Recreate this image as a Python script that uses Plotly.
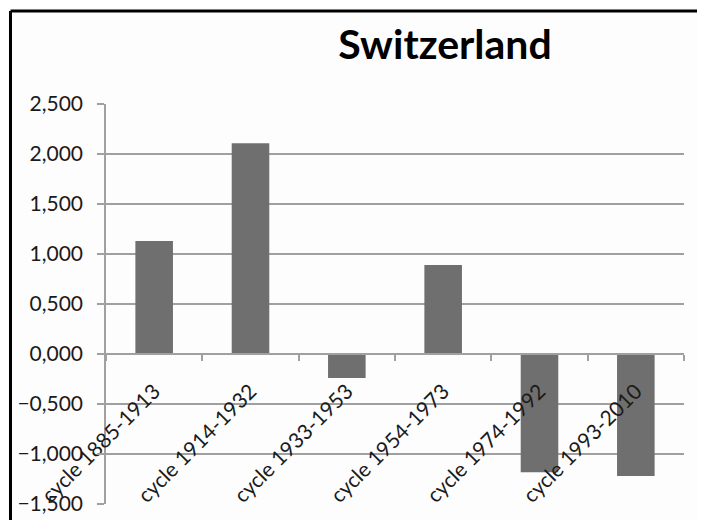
import plotly.graph_objects as go

categories = ["cycle 1885-1913", "cycle 1914-1932", "cycle 1933-1953",
              "cycle 1954-1973", "cycle 1974-1992", "cycle 1993-2010"]
values = [1.13, 2.107, -0.24, 0.89, -1.183, -1.22]
y_ticks = [-1.5, -1.0, -0.5, 0.0, 0.5, 1.0, 1.5, 2.0, 2.5]

# page body has an 8px margin; figure sized to fit the window
W, H = 697, 512
ML, MR, MT, MB = 98, 21, 96, 16
PW, PH = W - ML - MR, H - MT - MB

fig = go.Figure(go.Bar(
    x=categories, y=values,
    marker=dict(color="#6f6f6f", line=dict(width=0)),
))

grid = "#a0a0a0"
bx = -(ML - 2.5) / PW
by = 1 + (MT - 3) / PH
fig.update_layout(
    width=W, height=H,
    margin=dict(l=ML, r=MR, t=MT, b=MB, autoexpand=False),
    paper_bgcolor="#fdfdfd", plot_bgcolor="#fdfdfd",
    separators=", ",
    bargap=0.61,
    showlegend=False,
    font=dict(family="Lato, Carlito, Open Sans, sans-serif", color="#1a1a1a"),
    title=dict(text="<b>Switzerland</b>", x=437 / W, xanchor="center",
               y=1 - 37 / H, yanchor="middle",
               font=dict(size=41, color="#000000")),
    xaxis=dict(
        anchor="free", position=(0 - (-1.5)) / 4.0,
        showline=True, linecolor=grid, linewidth=1.5,
        ticks="outside", tickson="boundaries", ticklen=6, tickcolor=grid, tickwidth=1.5,
        tickangle=-45, tickfont=dict(size=21, color="#1a1a1a"),
        ticklabelstandoff=16,
        showgrid=False, automargin=False,
    ),
    yaxis=dict(
        range=[-1.5, 2.5], tickvals=y_ticks, tickformat=".3f",
        showline=True, linecolor=grid, linewidth=1.5,
        ticks="outside", ticklen=7, tickcolor=grid, tickwidth=1.5,
        showgrid=True, gridcolor=grid, gridwidth=1.5,
        zeroline=False, tickfont=dict(size=21, color="#1a1a1a"),
        ticklabelstandoff=10, automargin=False,
    ),
    shapes=[
        dict(type="line", xref="paper", yref="paper",
             x0=bx, x1=(W - ML - 2) / PW, y0=by, y1=by,
             line=dict(color="black", width=3)),
        dict(type="line", xref="paper", yref="paper",
             x0=bx, x1=bx, y0=by, y1=-MB / PH,
             line=dict(color="black", width=3)),
    ],
)

fig.write_html("out.html", config={"displayModeBar": False})
